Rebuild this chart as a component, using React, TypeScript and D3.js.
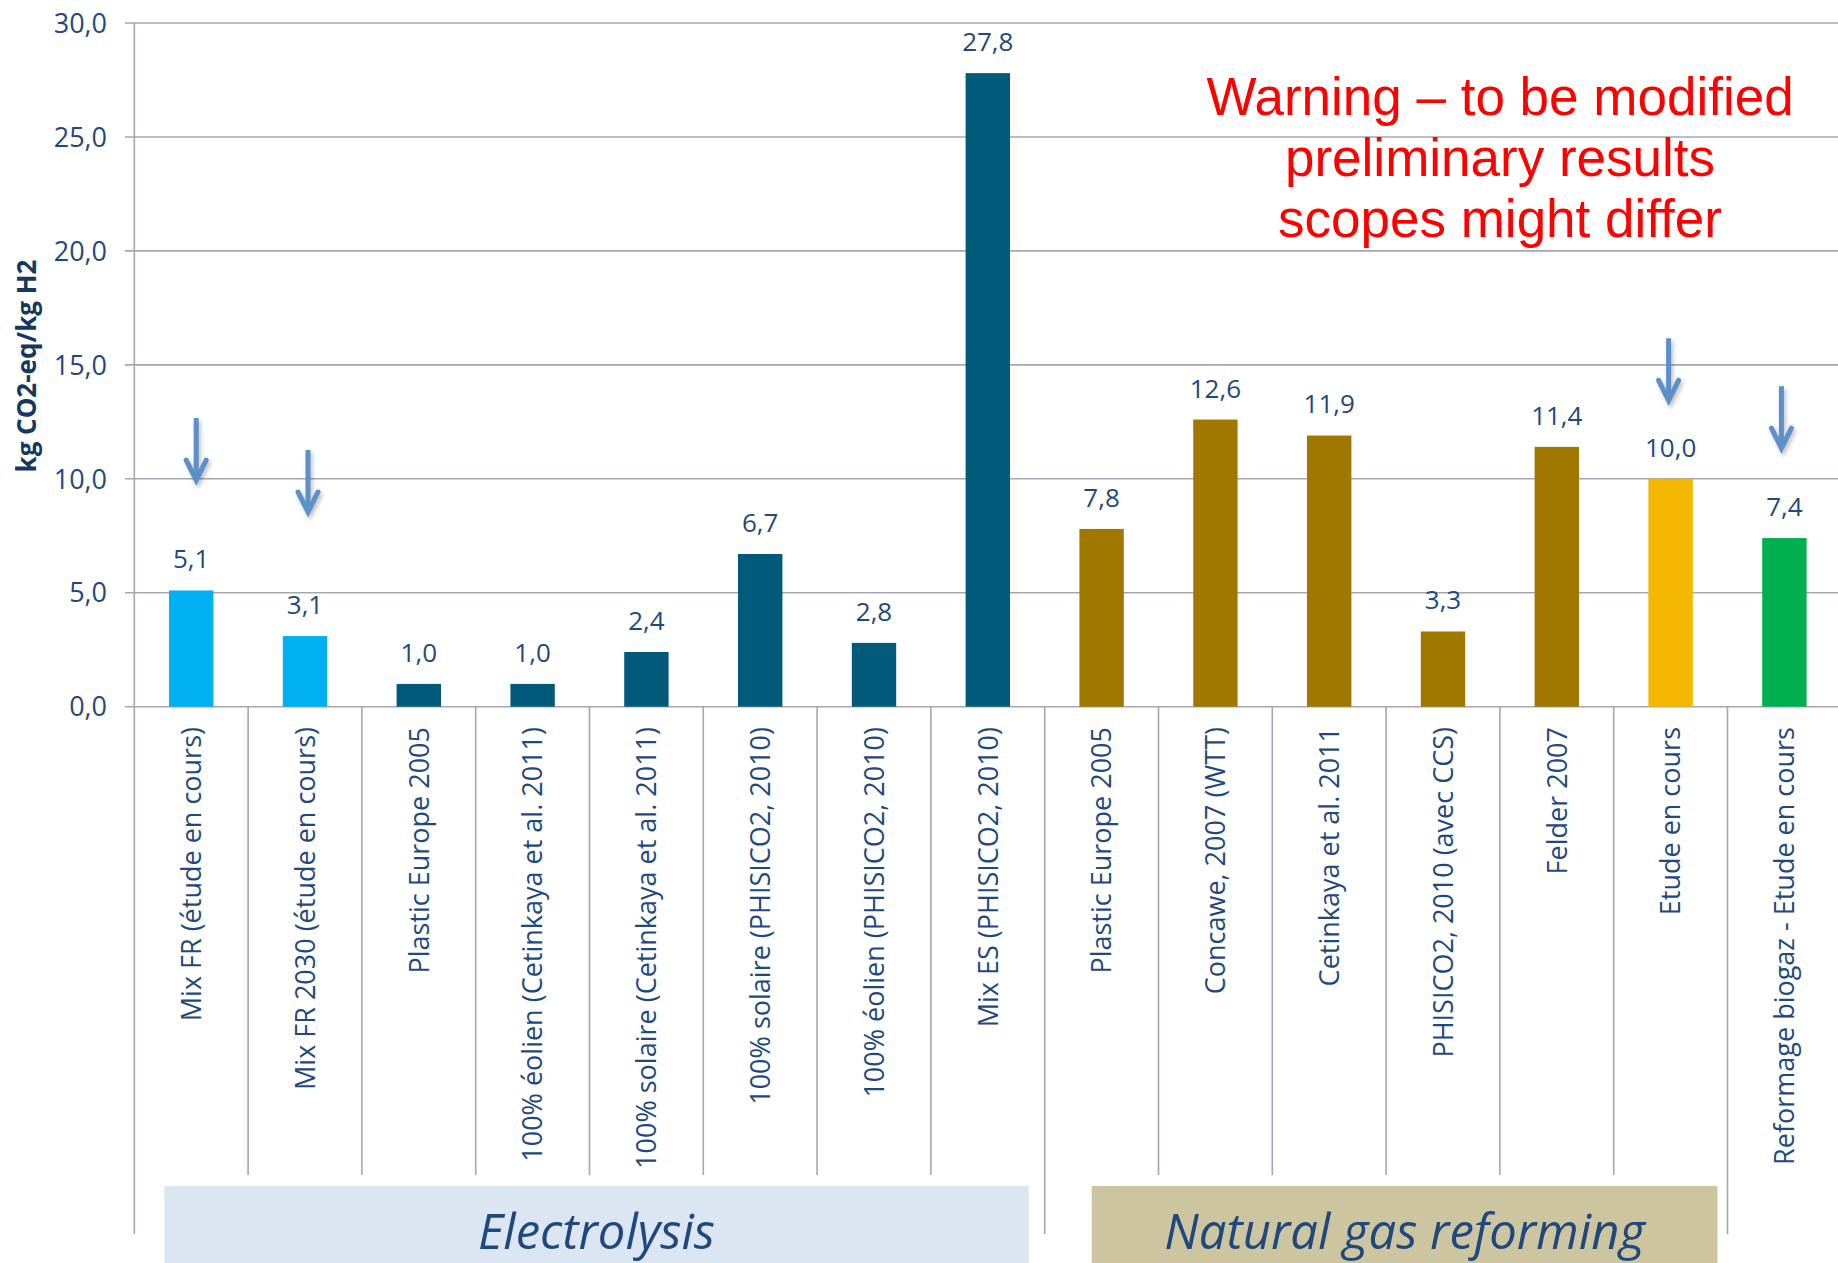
import { useMemo } from "react";
import * as d3 from "d3";

const categories = [
  "Mix FR (étude en cours)",
  "Mix FR 2030 (étude en cours)",
  "Plastic Europe 2005",
  "100% éolien (Cetinkaya et al. 2011)",
  "100% solaire (Cetinkaya et al. 2011)",
  "100% solaire (PHISICO2, 2010)",
  "100% éolien (PHISICO2, 2010)",
  "Mix ES (PHISICO2, 2010)",
  "Plastic Europe 2005 ",
  "Concawe, 2007 (WTT)",
  "Cetinkaya et al. 2011",
  "PHISICO2, 2010 (avec CCS)",
  "Felder 2007",
  "Etude en cours",
  "Reformage biogaz - Etude en cours"
];
const values = [5.1, 3.1, 1.0, 1.0, 2.4, 6.7, 2.8, 27.8, 7.8, 12.6, 11.9, 3.3, 11.4, 10.0, 7.4];
const barColors = [
  "#00b0f0", "#00b0f0",
  "#015a7a", "#015a7a", "#015a7a", "#015a7a", "#015a7a", "#015a7a",
  "#a07800", "#a07800", "#a07800", "#a07800", "#a07800",
  "#f4b800",
  "#00b050"
];
const yTicks = [0, 5, 10, 15, 20, 25, 30];

// group boundaries (index where a group starts) for the long separators
const groupBreaks = [8, 14];
const groupLabels = ["Electrolysis", "Natural gas reforming"];
const groupSpans = [[0, 8], [8, 14]];
const groupFills = ["#dce6f2", "#cdc5a0"];
// the label boxes are hand-placed shapes, a bit inside their spans
const groupInsets = [[30, 16], [47, 10]];

// arrows pointing at the bars under study: category index and tip value
const arrowCats = [0, 1, 13, 14];
const arrowTips = [9.9, 8.5, 13.4, 11.3];
const arrowNudge = [5, 3, -2, -3];

const warningLines = ["Warning – to be modified", "preliminary results", "scopes might differ"];

const W = 1838;
const H = 1263;
const left = 134.3;
const bottomY = 706.7;
const topY = 23;
const band = 113.8;

const fmt = (v: number) => v.toFixed(1).replace(".", ",");

export default function App() {
  const x = useMemo(
    () => d3.scaleBand<number>().domain(d3.range(categories.length)).range([left, left + band * categories.length]).padding(0),
    []
  );
  const y = useMemo(() => d3.scaleLinear().domain([0, 30]).range([bottomY, topY]), []);
  const bw = x.bandwidth() * 0.39;
  const grid = "#a6a6b0";
  const text = "#1f497d";

  return (
    <div style={{ position: "absolute", left: 0, top: 0 }}>
      <svg width={W} height={H} style={{ display: "block", fontFamily: "'Open Sans', sans-serif" }}>
        {yTicks.map(t => (
          <g key={t}>
            <line x1={125} x2={W} y1={y(t)} y2={y(t)} stroke={grid} strokeWidth={1.6} />
            <text x={107} y={y(t)} dy="0.36em" textAnchor="end" fontSize={27} fill={text}>
              {fmt(t)}
            </text>
          </g>
        ))}

        <line x1={left} x2={left} y1={topY} y2={1234} stroke={grid} strokeWidth={1.6} />

        {categories.map((c, i) => {
          const xs = x(i)! + x.bandwidth();
          const long = groupBreaks.includes(i + 1);
          if (i === categories.length - 1) return null;
          return <line key={"s" + i} x1={xs} x2={xs} y1={bottomY} y2={long ? 1234 : 1175} stroke={grid} strokeWidth={1.6} />;
        })}

        {values.map((v, i) => {
          const cx = x(i)! + x.bandwidth() / 2;
          return (
            <g key={"b" + i}>
              <rect x={cx - bw / 2} y={y(v)} width={bw} height={bottomY - y(v)} fill={barColors[i]} />
              <text x={cx} y={y(v) - 22} textAnchor="middle" fontSize={26} fill={text}>
                {fmt(v)}
              </text>
              <text
                transform={`translate(${cx},727) rotate(-90)`}
                dy="0.36em"
                textAnchor="end"
                fontSize={27}
                fill={text}
              >
                {categories[i].trim()}
              </text>
            </g>
          );
        })}

        <text
          transform={`translate(27,366) rotate(-90)`}
          textAnchor="middle"
          dy="0.36em"
          fontSize={26}
          fontWeight="bold"
          fill="#17375e"
        >
          kg CO2-eq/kg H2
        </text>

        {arrowCats.map((ci, k) => {
          const ax = x(ci)! + x.bandwidth() / 2 + arrowNudge[k];
          const tip = y(arrowTips[k]);
          return (
            <g key={"a" + k} stroke="#5b90c9" strokeWidth={5} fill="none" strokeLinecap="round" style={{ filter: "drop-shadow(2px 3px 2px rgba(0,0,0,0.25))" }}>
              <line x1={ax} x2={ax} y1={tip - 63} y2={tip - 2} strokeLinecap="butt" />
              <polyline points={`${ax - 10},${tip - 21} ${ax},${tip - 1} ${ax + 10},${tip - 21}`} strokeLinejoin="miter" />
            </g>
          );
        })}

        {groupSpans.map(([a, b], k) => {
          const x0 = x(a)! + groupInsets[k][0];
          const x1 = x(b - 1)! + x.bandwidth() - groupInsets[k][1];
          return (
            <g key={"g" + k}>
              <rect x={x0} y={1186} width={x1 - x0} height={H - 1186} fill={groupFills[k]} />
              <text x={(x0 + x1) / 2} y={1249} textAnchor="middle" fontSize={49} fontStyle="italic" fill="#1f497d">
                {groupLabels[k]}
              </text>
            </g>
          );
        })}

        {warningLines.map((l, i) => (
          <text
            key={l}
            x={1500}
            y={115 + i * 61}
            textAnchor="middle"
            fontFamily="'Liberation Sans', Arial, sans-serif"
            fontSize={53}
            fill="#ff0000"
          >
            {l}
          </text>
        ))}
      </svg>
    </div>
  );
}
